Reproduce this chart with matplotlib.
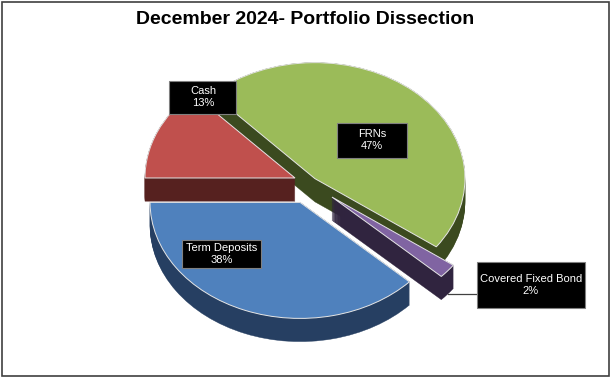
import numpy as np
import matplotlib
matplotlib.use("Agg")
from matplotlib import pyplot as plt
from matplotlib.patches import Rectangle

plt.rcParams['font.family'] = ['Liberation Sans', 'DejaVu Sans']

# donnees du graphique (ordre de trace dans le sens horaire depuis 9h)
labels = ["Cash", "FRNs", "Covered Fixed Bond", "Term Deposits"]
shares = [13, 47, 2, 38]
explode = [0.109, 0.05, 0.19, 0.18]
top_colors = ["#C0504D", "#9BBB59", "#8064A2", "#4F81BD"]
side_colors = ["#56211F", "#3B4A1F", "#30243F", "#263F62"]
title = "December 2024- Portfolio Dissection"

# ordre du peintre : du fond vers l'avant
draw_rank = [1, 0, 2, 3]

W, H = 611, 378
rx, ry = 150., 116.        # demi-axes de l'ellipse en pixels
cx, cy = 310., 183.        # centre (pixels, depuis le haut)
depth = 0.2                # epaisseur du camembert (unites de donnees)
n_layers = 24

fig = plt.figure(figsize=(W / 100, H / 100), dpi=100)
ax = fig.add_axes([0, 0, 1, 1])

# couches laterales
bottom_wedges = None
for k in range(n_layers):
    dz = depth * (1 - k / (n_layers - 1))
    wedges, _ = ax.pie(shares, explode=explode, colors=side_colors, startangle=180,
                       counterclock=False, center=(0, -dz), radius=1,
                       wedgeprops=dict(linewidth=0.3))
    for i, w in enumerate(wedges):
        w.set_edgecolor(side_colors[i])
        w.set_zorder(draw_rank[i] * 100 + k + 1)
    if k == 0:
        bottom_wedges = wedges

# faces superieures
wedges, _ = ax.pie(shares, explode=explode, colors=top_colors, startangle=180,
                   counterclock=False, center=(0, 0), radius=1,
                   wedgeprops=dict(linewidth=0.7, edgecolor="#e6e6e6"))
for i, w in enumerate(wedges):
    w.set_zorder(draw_rank[i] * 100 + 99)

ax.set_aspect('auto')
ax.set_xlim(-cx / rx, (W - cx) / rx)
ax.set_ylim(-(H - cy) / ry, cy / ry)
ax.axis('off')


def px2data(px, py):
    return (px - cx) / rx, (cy - py) / ry


# etiquettes : centre et taille des boites en pixels
label_pos = [(203, 97), (372, 140), (531, 285), (222, 254)]
box_size = [(67, 33), (70, 35), (108, 46), (79, 28)]
for i in range(len(labels)):
    x, y = px2data(*label_pos[i])
    bw, bh = box_size[i][0] / rx, box_size[i][1] / ry
    ax.add_patch(Rectangle((x - bw / 2, y - bh / 2), bw, bh, facecolor="black",
                           edgecolor="#808080", linewidth=0.8, zorder=1000))
    ax.text(x, y, "%s\n%d%%" % (labels[i], shares[i]), color="white", fontsize=8,
            ha="center", va="center", linespacing=1.15, zorder=1001)

# ligne de rappel pour la petite part
w = bottom_wedges[2]
mid = np.deg2rad(0.5 * (w.theta1 + w.theta2))
x0 = w.center[0] + w.r * np.cos(mid)
y0 = w.center[1] + w.r * np.sin(mid)
lx, ly = px2data(*label_pos[2])
ax.plot([x0, lx - box_size[2][0] / rx / 2], [y0, y0], color="#404040", lw=0.9, zorder=999)

fig.text(0.5, 1 - 19 / H, title, ha="center", va="center", fontsize=14, fontweight="bold")
fig.patches.append(Rectangle((0.003, 0.004), 0.993, 0.991, transform=fig.transFigure,
                             fill=False, edgecolor="#404040", linewidth=1.2))

fig.savefig("out.png", dpi=100)
